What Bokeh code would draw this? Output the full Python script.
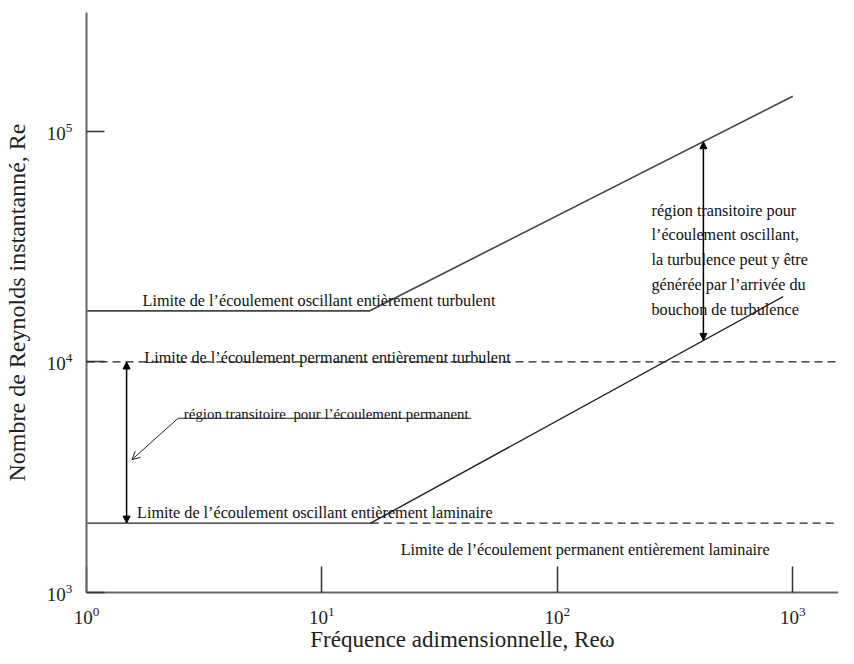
from bokeh.plotting import figure
from bokeh.models import Arrow, NormalHead, OpenHead, Span
from bokeh.core.properties import value
from bokeh.embed import file_html
from bokeh.resources import INLINE

# ---- data (log-log) ----
x_range_vals = [1, 1563]
y_range_vals = [1000, 328000]

# fully turbulent oscillating-flow limit
osc_turb_x = [1, 15.9, 1000]
osc_turb_y = [16650, 16650, 142000]

# fully turbulent steady-flow limit
steady_turb_re = 10000

# fully laminar oscillating-flow limit
osc_lam_x = [1, 16.1, 910]
osc_lam_y = [2000, 2000, 19200]

# fully laminar steady-flow limit (dashed part)
steady_lam_x = [16.1, 1700]
steady_lam_y = [2000, 2000]

# steady transitional region arrow
steady_arrow_x = 1.48
steady_arrow_y = [2000, 10000]

# oscillating transitional region arrow
osc_arrow_x = 417
osc_arrow_y = [12400, 90200]

# leader line for steady transition label
leader_x = [43, 2.45, 1.56]
leader_y = [5700, 5700, 3770]

labels_text = [
    "Limite de l\u2019\u00e9coulement oscillant enti\u00e8rement turbulent",
    "Limite de l\u2019\u00e9coulement permanent enti\u00e8rement turbulent",
    "Limite de l\u2019\u00e9coulement oscillant enti\u00e8rement laminaire",
    "Limite de l\u2019\u00e9coulement permanent enti\u00e8rement laminaire",
]
labels_x = [1.73, 1.76, 1.64, 21.6]
labels_y = [18300, 10400, 2220, 1530]

steady_region_text = "r\u00e9gion transitoire\u00a0 pour l\u2019\u00e9coulement permanent"
steady_region_x = 2.59
steady_region_y = 5950

block_text = ("r\u00e9gion transitoire pour\n"
              "l\u2019\u00e9coulement oscillant,\n"
              "la turbulence peut y \u00eatre\n"
              "g\u00e9n\u00e9r\u00e9e par l\u2019arriv\u00e9e du\n"
              "bouchon de turbulence")
block_x = 251
block_y = 27600

x_title = "Fr\u00e9quence adimensionnelle, Re\u03c9"
y_title = "Nombre de Reynolds instantann\u00e9, Re"

FONT = "Liberation Serif"
INK = "#111111"

p = figure(width=838, height=655, x_axis_type="log", y_axis_type="log",
           x_range=tuple(x_range_vals), y_range=tuple(y_range_vals),
           output_backend="svg", toolbar_location=None,
           min_border_left=82, min_border_right=0, min_border_top=12,
           min_border_bottom=63,
           x_axis_label=x_title, y_axis_label=y_title)

p.xgrid.grid_line_color = None
p.ygrid.grid_line_color = None
p.outline_line_color = None
p.background_fill_color = "white"

for ax in (p.xaxis[0], p.yaxis[0]):
    ax.axis_line_color = "#666666"
    ax.axis_line_width = 2
    ax.major_tick_line_color = "#333333"
    ax.major_tick_line_width = 1.5
    ax.minor_tick_line_color = None
    ax.major_tick_out = 0
    ax.major_label_text_font = FONT
    ax.major_label_text_font_size = "19px"
    ax.major_label_text_color = "#222222"
    ax.axis_label_text_font = FONT
    ax.axis_label_text_font_style = "normal"
    ax.axis_label_text_color = "#222222"

p.xaxis.axis_label_text_font_size = "23px"
p.yaxis.axis_label_text_font_size = "24px"
p.xaxis.major_tick_in = 26
p.yaxis.major_tick_in = 18
p.xaxis.major_label_standoff = 10
p.yaxis.major_label_standoff = 10
p.xaxis.axis_label_standoff = 0
p.yaxis.axis_label_standoff = 14

# lines
p.line(osc_turb_x, osc_turb_y, line_color="#444444", line_width=1.6)
p.add_layout(Span(location=steady_turb_re, dimension="width",
                  line_color="#222222", line_width=1.3, line_dash="8 5"))
p.line(osc_lam_x, osc_lam_y, line_color="#222222", line_width=1.4)
p.line(steady_lam_x, steady_lam_y, line_color="#222222", line_width=1.3,
       line_dash="8 5")

# arrows
p.add_layout(Arrow(x_start=steady_arrow_x, y_start=steady_arrow_y[0],
                   x_end=steady_arrow_x, y_end=steady_arrow_y[1],
                   line_width=1.5, line_color="black",
                   start=NormalHead(size=7, fill_color="black", line_color="black"),
                   end=NormalHead(size=7, fill_color="black", line_color="black")))
p.add_layout(Arrow(x_start=osc_arrow_x, y_start=osc_arrow_y[0],
                   x_end=osc_arrow_x, y_end=osc_arrow_y[1],
                   line_width=1.5, line_color="black",
                   start=NormalHead(size=7, fill_color="black", line_color="black"),
                   end=NormalHead(size=7, fill_color="black", line_color="black")))
p.line(leader_x[:2], leader_y[:2], line_color="#222222", line_width=1.2)
p.add_layout(Arrow(x_start=leader_x[1], y_start=leader_y[1],
                   x_end=leader_x[2], y_end=leader_y[2],
                   line_width=1, line_color="#222222",
                   end=OpenHead(size=8, line_width=1, line_color="#222222")))

# texts
p.text(x=labels_x, y=labels_y, text=labels_text, text_font=value(FONT),
       text_font_size="16.2px", text_baseline="alphabetic", text_align="left",
       text_color=INK)
p.text(x=[steady_region_x], y=[steady_region_y], text=[steady_region_text],
       text_font=value(FONT), text_font_size="14.9px",
       text_baseline="alphabetic", text_align="left", text_color=INK)
p.text(x=[block_x], y=[block_y], text=[block_text], text_font=value(FONT),
       text_font_size="16.2px", text_baseline="middle", text_align="left",
       text_line_height=1.38, text_color=INK)

open("out.html", "w").write(file_html(p, INLINE))
